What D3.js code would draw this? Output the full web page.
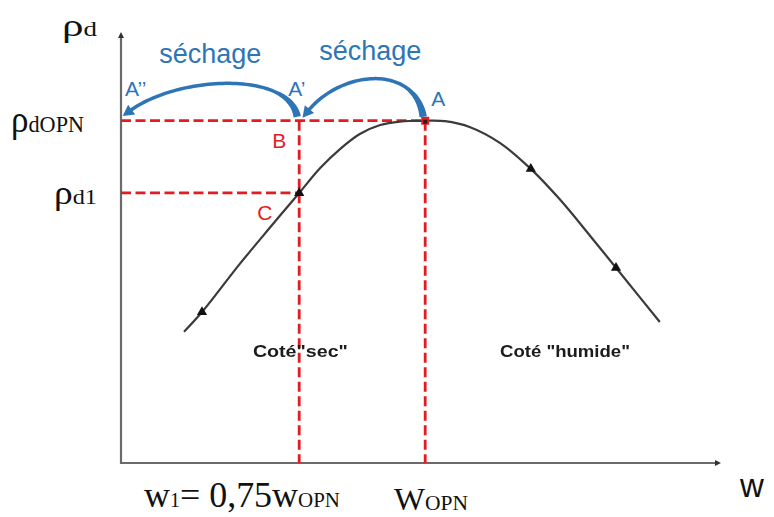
<!DOCTYPE html>
<html>
<head>
<meta charset="utf-8">
<script src="https://cdn.jsdelivr.net/npm/d3@7"></script>
<style>
  html, body { margin: 0; padding: 0; background: #fff; }
  svg { display: block; }
</style>
</head>
<body>
<svg id="chart" width="774" height="517"></svg>
<script>
// Proctor compaction curve: dry density versus water content
const waterContent = [10.5, 13.5, 19.8, 24.8, 29.7, 33.2, 36.5, 39.8, 43.2, 46.5, 50.7, 54.0, 58.2, 63.2, 68.3, 73.2, 78.2, 82.5, 89.8];
const dryDensity   = [30.5, 35.1, 46.3, 54.7, 62.8, 68.6, 73.0, 76.5, 78.6, 79.4, 79.6, 79.5, 78.1, 74.4, 68.4, 61.2, 52.8, 45.4, 32.8];

// direction markers along the curve
const markerW   = [13.5, 29.7, 68.3, 82.5];
const markerRho = [35.1, 62.8, 68.4, 45.4];

// optimum and the dry-side point
const wOPN = 50.7, rhoOPN = 79.6;
const w1 = 29.7, rho1 = 62.8;

// drying arrows: from, to (water content), at optimum density
const dryFrom = [wOPN, w1];
const dryTo   = [w1, 0];
const dryLift = [52, 45];
const dryLabels = ["séchage", "séchage"];

const svg = d3.select("#chart");
const x = d3.scaleLinear().domain([0, 100]).range([121, 721]);
const y = d3.scaleLinear().domain([0, 100]).range([463, 33]);

const red = "#e31b23", blue = "#2e75b6", axisGrey = "#6a6a6a";

const defs = svg.append("defs");
defs.append("filter").attr("id", "soft").append("feGaussianBlur").attr("stdDeviation", 0.7);
defs.append("filter").attr("id", "soft2").append("feGaussianBlur").attr("stdDeviation", 0.35);

// axes
const axes = svg.append("g").attr("filter", "url(#soft2)");
axes.append("line").attr("x1", x(0)).attr("x2", x(0)).attr("y1", y(0) + 1).attr("y2", y(100) + 2)
  .attr("stroke", axisGrey).attr("stroke-width", 2.2);
axes.append("line").attr("x1", x(0) - 1).attr("x2", x(100) - 4).attr("y1", y(0)).attr("y2", y(0))
  .attr("stroke", axisGrey).attr("stroke-width", 2.2);
axes.append("path")
  .attr("d", `M${x(0) - 3},${y(100) + 5} L${x(0)},${y(100) - 1} L${x(0) + 3},${y(100) + 5}Z`)
  .attr("fill", "#333");
axes.append("path")
  .attr("d", `M${x(100) - 6},${y(0) - 3} L${x(100)},${y(0)} L${x(100) - 6},${y(0) + 3}Z`)
  .attr("fill", "#333");

// red dashed reference lines
const dash = svg.append("g").attr("stroke", red).attr("stroke-width", 2.8)
  .attr("stroke-dasharray", "10,4.5").attr("fill", "none");
dash.append("line").attr("x1", x(0)).attr("x2", x(wOPN)).attr("y1", y(rhoOPN)).attr("y2", y(rhoOPN));
dash.append("line").attr("x1", x(0)).attr("x2", x(w1)).attr("y1", y(rho1)).attr("y2", y(rho1));
dash.append("line").attr("x1", x(w1)).attr("x2", x(w1)).attr("y1", y(rhoOPN)).attr("y2", y(0));
dash.append("line").attr("x1", x(wOPN)).attr("x2", x(wOPN)).attr("y1", y(rhoOPN)).attr("y2", y(0));

// compaction curve
const pts = waterContent.map((w, i) => [w, dryDensity[i]]);
const line = d3.line().x(d => x(d[0])).y(d => y(d[1])).curve(d3.curveCatmullRom.alpha(0.5));
svg.append("path").datum(pts).attr("d", line)
  .attr("fill", "none").attr("stroke", "#3a3a3a").attr("stroke-width", 2.2)
  .attr("filter", "url(#soft2)");

svg.append("g").selectAll("path").data(markerW).join("path")
  .attr("d", d3.symbol(d3.symbolTriangle, 45))
  .attr("transform", (d, i) => `translate(${x(d)},${y(markerRho[i])})`)
  .attr("fill", "#111");

// optimum point
svg.append("rect").attr("x", x(wOPN) - 4).attr("y", y(rhoOPN) - 4).attr("width", 8).attr("height", 8)
  .attr("fill", red);
svg.append("rect").attr("x", x(wOPN) - 2).attr("y", y(rhoOPN) - 1).attr("width", 4).attr("height", 4)
  .attr("fill", "#222");

// tapered drying arrows
function bez(p0, p1, p2, p3, t) {
  const u = 1 - t;
  return [
    u*u*u*p0[0] + 3*u*u*t*p1[0] + 3*u*t*t*p2[0] + t*t*t*p3[0],
    u*u*u*p0[1] + 3*u*u*t*p1[1] + 3*u*t*t*p2[1] + t*t*t*p3[1]
  ];
}
function bezD(p0, p1, p2, p3, t) {
  const u = 1 - t;
  return [
    3*u*u*(p1[0]-p0[0]) + 6*u*t*(p2[0]-p1[0]) + 3*t*t*(p3[0]-p2[0]),
    3*u*u*(p1[1]-p0[1]) + 6*u*t*(p2[1]-p1[1]) + 3*t*t*(p3[1]-p2[1])
  ];
}
const arrows = svg.append("g").attr("fill", blue).attr("filter", "url(#soft2)");
dryFrom.forEach((wf, i) => {
  const p0 = [x(wf) - 2, y(rhoOPN) - 4];
  const p3 = [x(dryTo[i]) + 9, y(rhoOPN) - 10];
  const h = dryLift[i];
  const p1 = [p0[0] - 8, p0[1] - h];
  const p2 = [p3[0] + (p0[0] - p3[0]) * 0.3, p3[1] - h * 0.8];
  const n = 60, left = [], right = [];
  for (let k = 0; k <= n; k++) {
    const t = k / n;
    const p = bez(p0, p1, p2, p3, t), d = bezD(p0, p1, p2, p3, t);
    const len = Math.hypot(d[0], d[1]);
    const nx = -d[1] / len, ny = d[0] / len;
    const wdt = (t < 0.25 ? 7.5 - (t / 0.25) * 4 : 3.5) / 2;
    left.push([p[0] + nx * wdt, p[1] + ny * wdt]);
    right.push([p[0] - nx * wdt, p[1] - ny * wdt]);
  }
  arrows.append("path").attr("d", d3.line()(left.concat(right.reverse())) + "Z");
  const d = bezD(p0, p1, p2, p3, 1), len = Math.hypot(d[0], d[1]);
  const ux = d[0] / len, uy = d[1] / len, nx = -uy, ny = ux;
  const tip = [p3[0] + ux * 9, p3[1] + uy * 9];
  arrows.append("path").attr("d",
    `M${tip[0]},${tip[1]} L${p3[0] + nx * 6 - ux * 2},${p3[1] + ny * 6 - uy * 2} L${p3[0] - nx * 6 - ux * 2},${p3[1] - ny * 6 - uy * 2}Z`);
});

// drying labels, centred over each arrow
[[x(wOPN) - 55, 60], [x(w1) - 89, 63]].forEach((p, i) => {
  svg.append("text").attr("x", p[0]).attr("y", p[1]).attr("text-anchor", "middle")
    .attr("font-family", "Liberation Sans, Arial, sans-serif").attr("fill", blue).attr("font-size", 27)
    .text(dryLabels[i]);
});
const pointLabels = [["A’’", x(0) + 4, 96], ["A’", x(w1) - 11, 96], ["A", x(wOPN) + 6, 106]];
pointLabels.forEach(p => {
  svg.append("text").attr("x", p[1]).attr("y", p[2])
    .attr("font-family", "Liberation Sans, Arial, sans-serif").attr("fill", blue).attr("font-size", 21)
    .text(p[0]);
});

// red point labels
[["B", x(w1) - 27, y(rhoOPN) + 27], ["C", x(w1) - 42, y(rho1) + 27]].forEach(p => {
  svg.append("text").attr("x", p[1]).attr("y", p[2])
    .attr("font-family", "Liberation Sans, Arial, sans-serif").attr("fill", red).attr("font-size", 21)
    .text(p[0]);
});

// side labels
const sideLabels = ["Coté\"sec\"", "Coté \"humide\""];
const sideW = [w1 + 0.2, 74];
const sideLen = [95, 130];
sideLabels.forEach((t, i) => {
  svg.append("text").attr("x", x(sideW[i])).attr("y", 357).attr("text-anchor", "middle")
    .attr("font-family", "Liberation Sans, Arial, sans-serif").attr("font-weight", "bold")
    .attr("font-size", 17).attr("fill", "#1a1a1a").attr("filter", "url(#soft)")
    .attr("textLength", sideLen[i]).attr("lengthAdjust", "spacingAndGlyphs")
    .text(t);
});

// axis titles (serif with subscripts)
function serifLabel(xp, yp, parts, len) {
  const t = svg.append("text").attr("x", xp).attr("y", yp)
    .attr("font-family", "Liberation Serif, Times New Roman, serif").attr("fill", "#111");
  parts.forEach(p => t.append("tspan").attr("font-size", p[1]).text(p[0]));
  if (len) t.attr("textLength", len).attr("lengthAdjust", "spacingAndGlyphs");
  return t;
}
serifLabel(62, 36, [["ρ", 32], ["d", 20]], 35);
serifLabel(11, y(rhoOPN) + 11, [["ρ", 38], ["dOPN", 24]], 73);
serifLabel(54, y(rho1) + 11, [["ρ", 34], ["d1", 22]], 43);
serifLabel(144, 507, [["w", 36], ["1", 20], ["= 0,75", 36], ["w", 36], ["OPN", 21]], 196);
serifLabel(394, 510, [["W", 32], ["OPN", 21]], 74);

svg.append("text").attr("x", 740).attr("y", 497)
  .attr("font-family", "Liberation Sans, Arial, sans-serif").attr("font-size", 33).attr("fill", "#111")
  .text("w");
</script>
</body>
</html>
